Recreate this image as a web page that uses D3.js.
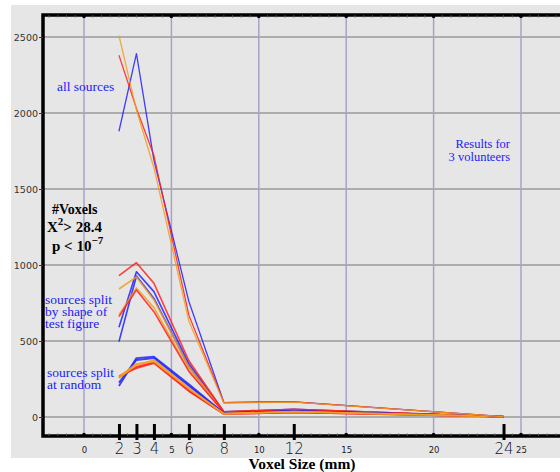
<!DOCTYPE html>
<html>
<head>
<meta charset="utf-8">
<script src="https://cdn.jsdelivr.net/npm/d3@7"></script>
<style>
  body { margin: 0; background: #fff; }
  .serif { font-family: "Liberation Serif", "DejaVu Serif", serif; }
  .sans { font-family: "DejaVu Sans", "Liberation Sans", sans-serif; }
</style>
</head>
<body>
<div id="chart"></div>
<script>
// voxel sizes where data were measured
var sizes = [2, 3, 4, 6, 8, 12, 24];

// #voxels with X^2 > 28.4
var allBlue   = [1880, 2390, 1690, 760, 95, 100, 2];
var allRed    = [2380, 2030, 1720, 670, 95, 100, 2];
var allOrange = [2510, 2020, 1640, 630, 92, 98, 2];

var shapeRed1    = [930, 1015, 880, 370, 35, 50, 2];
var shapeRed2    = [660, 836, 693, 300, 30, 45, 2];
var shapeBlue1   = [590, 955, 825, 350, 35, 50, 2];
var shapeBlue2   = [496, 928, 780, 330, 30, 45, 2];
var shapeOrange1 = [842, 921, 770, 330, 32, 48, 2];
var shapeOrange2 = [671, 849, 720, 310, 30, 45, 2];

var randBlue1   = [204, 388, 397, 215, 25, 40, 2];
var randBlue2   = [226, 375, 388, 205, 25, 38, 2];
var randOrange1 = [256, 342, 375, 190, 22, 35, 2];
var randOrange2 = [265, 350, 365, 185, 22, 35, 2];
var randRed1    = [270, 322, 355, 170, 20, 30, 2];
var randRed2    = [260, 330, 360, 175, 20, 30, 2];

var yTicks = [0, 500, 1000, 1500, 2000, 2500];
var xSmallTicks = [0, 5, 10, 15, 20, 25];

// blues first so the reds and oranges sit on top where lines meet
var series = [
  { v: shapeBlue2, c: "#2020ff", w: 1.6 },
  { v: shapeBlue1, c: "#2020ff", w: 1.6 },
  { v: shapeOrange2, c: "#f0a020", w: 1.6 },
  { v: shapeOrange1, c: "#f0a020", w: 1.6 },
  { v: shapeRed2, c: "#ff2020", w: 1.6 },
  { v: shapeRed1, c: "#ff2020", w: 1.6 },
  { v: randBlue2, c: "#2020ff", w: 1.8 },
  { v: randBlue1, c: "#2020ff", w: 1.8 },
  { v: randRed2, c: "#ff2020", w: 1.8 },
  { v: randRed1, c: "#ff2020", w: 1.8 },
  { v: randOrange2, c: "#f0a020", w: 1.8 },
  { v: randOrange1, c: "#f0a020", w: 1.8 },
  { v: allBlue, c: "#2020ff", w: 1.3 },
  { v: allRed, c: "#ff2020", w: 1.3 },
  { v: allOrange, c: "#f0a020", w: 1.3 }
];

var width = 560, height = 472;
var plotLeft = 43, plotRight = 561, plotTop = 15, plotBottom = 436;

var svg = d3.select("#chart").append("svg")
  .attr("width", width)
  .attr("height", height);

// gray panel
svg.append("rect")
  .attr("x", 11).attr("y", 5)
  .attr("width", 549).attr("height", 453)
  .attr("fill", "#e6e6e6");

var x = d3.scaleLinear().domain([0, 25]).range([84, 521]);
var y = d3.scaleLinear().domain([0, 2500]).range([417, 37]);

// grid
svg.selectAll("line.hgrid").data(yTicks).enter().append("line")
  .attr("x1", plotLeft).attr("x2", plotRight)
  .attr("y1", function(d) { return y(d); })
  .attr("y2", function(d) { return y(d); })
  .attr("stroke", "#9a9a9a").attr("stroke-width", 1.5);

svg.selectAll("line.vgrid").data(xSmallTicks).enter().append("line")
  .attr("x1", function(d) { return x(d); })
  .attr("x2", function(d) { return x(d); })
  .attr("y1", plotTop).attr("y2", plotBottom)
  .attr("stroke", "#a4a4c8").attr("stroke-width", 1.5);

// the lines
var line = d3.line()
  .x(function(d, i) { return x(sizes[i]); })
  .y(function(d) { return y(d); });

svg.selectAll("path.series").data(series).enter().append("path")
  .attr("d", function(d) { return line(d.v); })
  .attr("fill", "none")
  .attr("stroke", function(d) { return d.c; })
  .attr("stroke-width", function(d) { return d.w; })
  .attr("stroke-opacity", 0.85)
  .attr("stroke-linejoin", "round");

// frame
svg.append("path")
  .attr("d", "M" + plotRight + "," + plotTop + "H" + plotLeft + "V" + plotBottom + "H" + plotRight)
  .attr("fill", "none").attr("stroke", "#000").attr("stroke-width", 3.5);

// minor ticks on top and bottom
var minor = d3.range(-2, 27.5, 0.5);
[plotTop, plotBottom].forEach(function(yy) {
  var dir = yy == plotTop ? 1 : -1;
  svg.append("g").selectAll("line").data(minor).enter().append("line")
    .attr("x1", function(d) { return x(d); })
    .attr("x2", function(d) { return x(d); })
    .attr("y1", yy).attr("y2", yy + dir * 3)
    .attr("stroke", "#777").attr("stroke-width", 0.6);
  svg.append("g").selectAll("circle").data(xSmallTicks).enter().append("circle")
    .attr("cx", function(d) { return x(d); })
    .attr("cy", yy + dir * 1.5)
    .attr("r", 1.8).attr("fill", "#000");
});

// y axis
var yAxis = d3.axisLeft(y).tickValues(yTicks).tickFormat(d3.format("d")).tickSize(4).tickPadding(1);
var gy = svg.append("g").attr("transform", "translate(" + plotLeft + ",0)").call(yAxis);
gy.select(".domain").remove();
gy.selectAll("text").attr("class", "sans").style("font-size", "9.5px").attr("fill", "#333");
gy.selectAll("line").attr("stroke", "#333");

// small x labels
svg.append("g").selectAll("text").data(xSmallTicks).enter().append("text")
  .attr("class", "sans")
  .attr("x", function(d) { return x(d) + 0.5; })
  .attr("y", 453)
  .attr("text-anchor", "middle")
  .style("font-size", "8.5px")
  .attr("fill", "#222")
  .text(function(d) { return d; });

// big ticks and labels at the measured sizes
var xAxis = d3.axisBottom(x).tickValues(sizes).tickSize(16).tickPadding(3);
var gx = svg.append("g").attr("transform", "translate(0,424)").call(xAxis);
gx.select(".domain").remove();
gx.selectAll("line").attr("stroke", "#000").attr("stroke-width", 3);
gx.selectAll("text").attr("class", "sans")
  .style("font-size", "15px").style("font-weight", "300")
  .attr("fill", "#111");

// axis title
svg.append("text").attr("class", "serif")
  .attr("x", 302).attr("y", 469)
  .attr("text-anchor", "middle")
  .style("font-size", "15.5px").style("font-weight", "bold")
  .text("Voxel Size (mm)");

// annotations
function blueText(lines, x0, y0, dy, size, anchor) {
  var t = svg.append("text").attr("class", "serif")
    .attr("fill", "#2020ff").style("font-size", size + "px")
    .attr("text-anchor", anchor || "start");
  lines.forEach(function(s, i) {
    t.append("tspan").attr("x", x0).attr("y", y0 + i * dy).text(s);
  });
}
blueText(["all sources"], 57, 91, 0, 13.5);
blueText(["sources split", "by shape of", "test figure"], 45, 304, 12, 13.5);
blueText(["sources split", "at random"], 47, 377, 11.5, 13.5);
blueText(["Results for", "3 volunteers"], 510, 148, 13, 12.5, "end");

var k = svg.append("g").attr("class", "serif").attr("fill", "#000")
  .style("font-weight", "bold");
k.append("text").attr("x", 52).attr("y", 214).style("font-size", "14px").text("#Voxels");
var t2 = k.append("text").attr("x", 47).attr("y", 232).style("font-size", "15px");
t2.append("tspan").text("X");
t2.append("tspan").attr("dy", -7).style("font-size", "11px").text("2");
t2.append("tspan").attr("dy", 7).text("> 28.4");
var t3 = k.append("text").attr("x", 52).attr("y", 251).style("font-size", "15px");
t3.append("tspan").text("p < 10");
t3.append("tspan").attr("dy", -7).style("font-size", "11px").text("\u22127");
</script>
</body>
</html>
